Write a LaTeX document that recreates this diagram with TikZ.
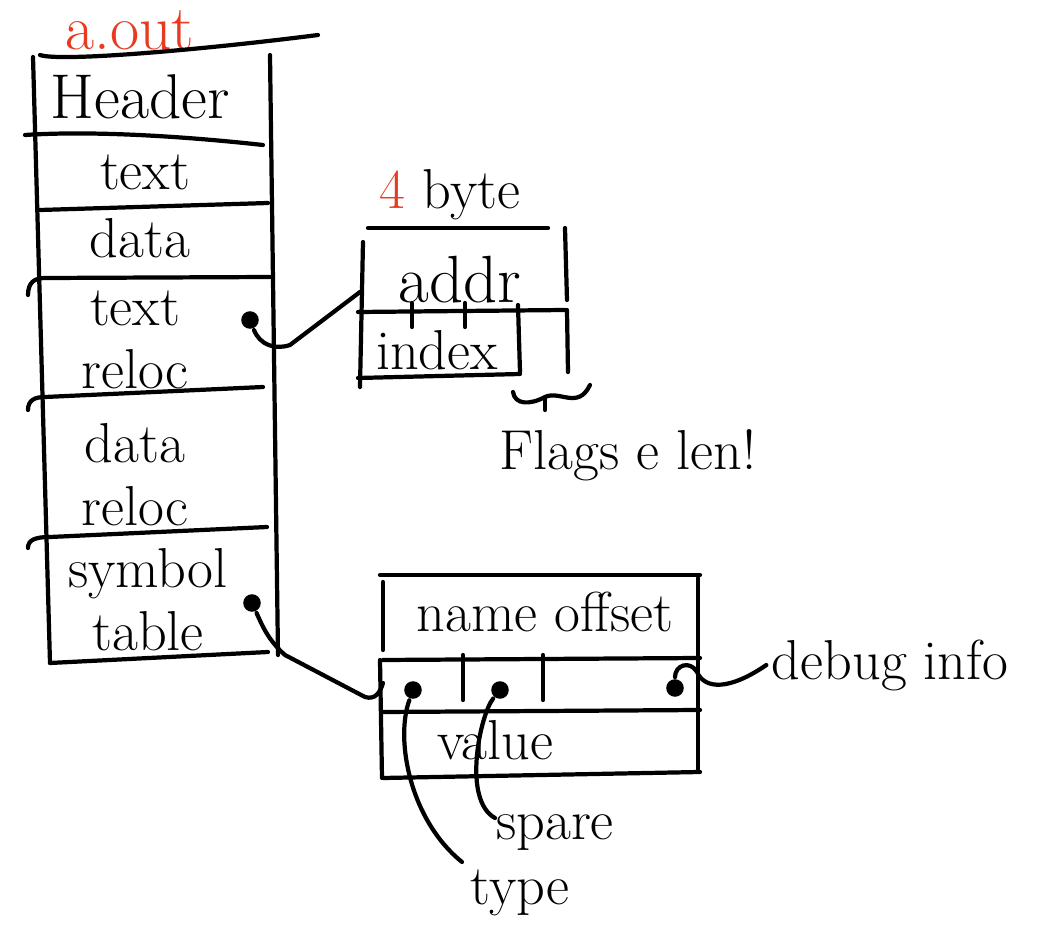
\documentclass[tikz,border=0pt]{standalone}
\usetikzlibrary{positioning}
\definecolor{aoutred}{RGB}{232,58,30}
\begin{document}
\begin{tikzpicture}[x=0.01cm, y=-0.01cm, line width=1.2pt, line cap=round,
	hand/.style={font=\fontsize{16}{18}\selectfont, align=center, inner sep=1pt},
	bighand/.style={font=\fontsize{18}{20}\selectfont, inner sep=1pt},
	pin dot/.style={circle, fill, inner sep=0pt, minimum size=5pt}]
	\useasboundingbox (0,0) rectangle (1056,945);
	
	% a.out column
	\node[bighand, text=aoutred] (aout) at (130,30) {a.out};
	\draw (40,55) .. controls (60,62) and (200,50) .. (318,35);
	\draw (33,57) -- (50,663);
	\draw (270,55) -- (278,655);
	\draw (25,135) .. controls (100,130) and (200,138) .. (263,145);
	\draw (40,210) -- (268,203);
	\draw (28,295) .. controls (28,282) and (35,278) .. (45,278) -- (270,277);
	\draw (28,410) .. controls (28,400) and (35,397) .. (45,397) -- (263,387);
	\draw (28,548) .. controls (28,540) and (35,537) .. (50,537) -- (267,527);
	\draw (50,663) -- (268,652);
	\node[bighand] (header) at (140,97) {Header};
	\node[hand] (text) at (145,172) {text};
	\node[hand] (data) at (140,238) {data};
	\node[hand] (textreloc) at (135,340) {text\\reloc};
	\node[hand] (datareloc) at (135,475) {data\\reloc};
	\node[hand] (symtab) at (148,600) {symbol\\table};
	\node[pin dot] (trdot) at (250,320) {};
	\node[pin dot] (stdot) at (252,603) {};
	
	% relocation entry
	\node[hand] (bytes) at (450,195) {{\color{aoutred}4} byte};
	\draw (368,228) -- (548,228);
	\draw (363,242) -- (360,387);
	\draw (565,228) -- (567,300);
	\draw (567,310) -- (568,372);
	\draw (358,312) -- (565,310);
	\draw (518,305) -- (520,372);
	\draw (358,378) -- (520,374);
	\foreach \tx in {412,465} \draw (\tx,303) -- (\tx,327);
	\node[font=\fontsize{19}{21}\selectfont, inner sep=1pt] (addr) at (460,280) {addr};
	\node[hand] (index) at (437,350) {index};
	\coordinate (addrin) at (360,292);
	\draw (trdot) .. controls (260,345) and (275,350) .. (290,345) -- (addrin);
	\draw (513,392) .. controls (515,405) and (530,405) .. (545,397)
		.. controls (560,390) and (578,410) .. (590,385);
	\draw (545,397) -- (545,410);
	\node[hand] (flags) at (628,455) {Flags e len!};
	
	% symbol entry
	\draw (380,575) -- (700,575);
	\draw (383,582) -- (383,650);
	\draw (698,578) -- (698,770);
	\draw (383,660) -- (700,658);
	\draw (380,660) -- (382,778);
	\draw (383,712) -- (700,710);
	\draw (383,778) -- (700,772);
	\foreach \tx in {463,543} \draw (\tx,655) -- (\tx,700);
	\node[hand] (nameoff) at (545,612) {name offset};
	\node[hand] (value) at (495,740) {value};
	\coordinate (symin) at (383,683);
	\draw (stdot) .. controls (262,625) and (268,640) .. (285,655) -- (365,697)
		.. controls (375,700) and (380,693) .. (symin);
	\node[pin dot] (tydot) at (413,690) {};
	\node[pin dot] (spdot) at (500,690) {};
	\node[pin dot] (dbdot) at (675,688) {};
	\node[hand] (debug) at (890,665) {debug info};
	\node[hand] (spare) at (555,833) {spare};
	\node[hand] (type) at (520,893) {type};
	\draw (dbdot) .. controls (675,665) and (690,660) .. (697,672)
		.. controls (705,690) and (730,690) .. (debug.west);
	\draw (tydot) .. controls (395,740) and (410,820) .. (462,862);
	\draw (spdot) .. controls (480,715) and (462,800) .. (495,818);
\end{tikzpicture}
\end{document}
